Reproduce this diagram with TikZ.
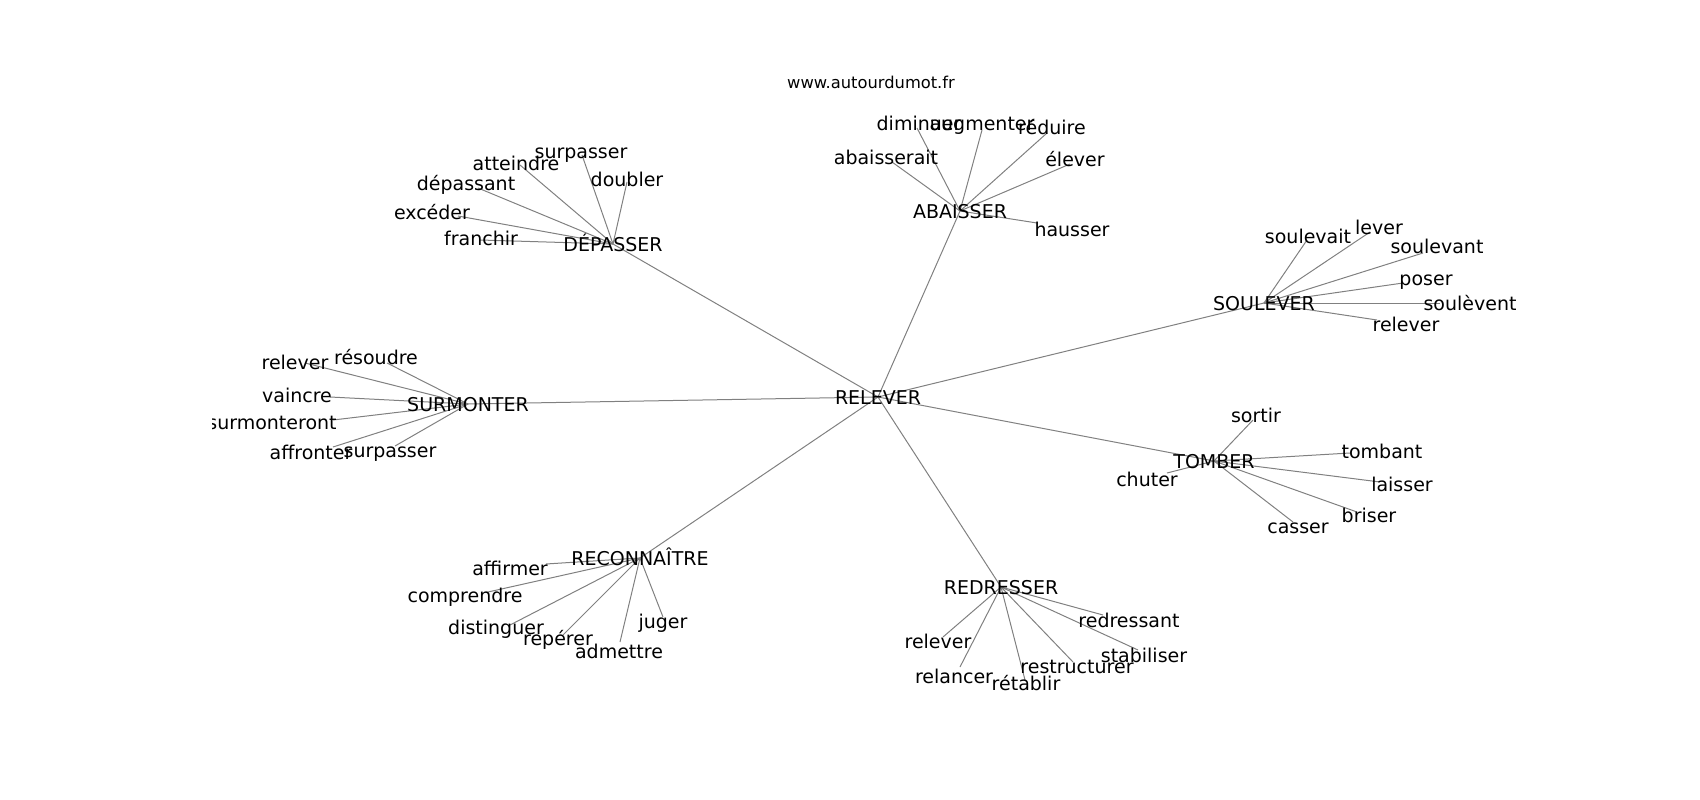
\documentclass[tikz,border=0pt]{standalone}
\usepackage{fontspec}
\setmainfont{DejaVu Sans}
\usepackage{tikz}
\usetikzlibrary{backgrounds}

\begin{document}
\begin{tikzpicture}[
  x=1pt, y=-1pt,
  word/.style={text centered, inner sep=0pt, text height=17pt, text depth=2pt, font=\fontsize{19}{23}\selectfont},
  hub/.style={word},
  site/.style={text centered, inner sep=0pt, text height=12pt, text depth=3.5pt, font=\fontsize{16.3}{19}\selectfont},
  lnk/.style={-, line width=1pt, draw=black!50}
  ]

\useasboundingbox (0,0) rectangle (1700,800);

\node [site] (site) at (871,84) {www.autourdumot.fr};

\begin{scope}
\clip (212.5,96) rectangle (1530,712);

% centre et mots relais
\node [hub] (relever) at (878,397) {RELEVER};
\node [hub] (depasser) at (613,244) {DÉPASSER};
\node [hub] (abaisser) at (960,211) {ABAISSER};
\node [hub] (soulever) at (1264,303) {SOULEVER};
\node [hub] (surmonter) at (468,404) {SURMONTER};
\node [hub] (tomber) at (1214,461) {TOMBER};
\node [hub] (reconnaitre) at (640,558) {RECONNAÎTRE};
\node [hub] (redresser) at (1001,587) {REDRESSER};

% DEPASSER
\path (582,155) coordinate (p-surpasser-d) (581,151) node [word] (surpasser-d) {surpasser};
\path (520,165) coordinate (p-atteindre) (516,163) node [word] (atteindre) {atteindre};
\path (627,182) coordinate (p-doubler) (627,179) node [word] (doubler) {doubler};
\path (478,188) coordinate (p-depassant) (466,183) node [word] (depassant) {dépassant};
\path (458,216) coordinate (p-exceder) (432,212) node [word] (exceder) {excéder};
\path (480,240) coordinate (p-franchir) (481,238) node [word] (franchir) {franchir};

% ABAISSER
\path (917,128) coordinate (p-diminuer) (919,123) node [word] (diminuer) {diminuer};
\path (982,130) coordinate (p-augmenter) (982,123) node [word] (augmenter) {augmenter};
\path (1047,133) coordinate (p-reduire) (1052,127) node [word] (reduire) {réduire};
\path (892,162) coordinate (p-abaisserait) (886,157) node [word] (abaisserait) {abaisserait};
\path (1070,164) coordinate (p-elever) (1075,159) node [word] (elever) {élever};
\path (1037,223) coordinate (p-hausser) (1072,229) node [word] (hausser) {hausser};

% SOULEVER
\path (1307,240) coordinate (p-soulevait) (1308,236) node [word] (soulevait) {soulevait};
\path (1370,232) coordinate (p-lever) (1379,227) node [word] (lever) {lever};
\path (1423,253) coordinate (p-soulevant) (1437,246) node [word] (soulevant) {soulevant};
\path (1403,283) coordinate (p-poser) (1426,278) node [word] (poser) {poser};
\path (1440,303) coordinate (p-soulevent) (1470,303) node [word] (soulevent) {soulèvent};
\path (1377,320) coordinate (p-relever-s) (1406,324) node [word] (relever-s) {relever};

% SURMONTER
\path (305,363) coordinate (p-relever-m) (295,362) node [word] (relever-m) {relever};
\path (387,363) coordinate (p-resoudre) (376,357) node [word] (resoudre) {résoudre};
\path (330,397) coordinate (p-vaincre) (297,395) node [word] (vaincre) {vaincre};
\path (333,420) coordinate (p-surmonteront) (272,422) node [word] (surmonteront) {surmonteront};
\path (333,447) coordinate (p-affronter) (311,452) node [word] (affronter) {affronter};
\path (395,446) coordinate (p-surpasser-m) (390,450) node [word] (surpasser-m) {surpasser};

% TOMBER
\path (1253,420) coordinate (p-sortir) (1256,415) node [word] (sortir) {sortir};
\path (1350,453) coordinate (p-tombant) (1382,451) node [word] (tombant) {tombant};
\path (1380,482) coordinate (p-laisser) (1402,484) node [word] (laisser) {laisser};
\path (1357,512) coordinate (p-briser) (1369,515) node [word] (briser) {briser};
\path (1293,522) coordinate (p-casser) (1298,526) node [word] (casser) {casser};
\path (1167,473) coordinate (p-chuter) (1147,479) node [word] (chuter) {chuter};

% RECONNAITRE
\path (546,564) coordinate (p-affirmer) (510,568) node [word] (affirmer) {affirmer};
\path (488,592) coordinate (p-comprendre) (465,595) node [word] (comprendre) {comprendre};
\path (510,625) coordinate (p-distinguer) (496,627) node [word] (distinguer) {distinguer};
\path (563,635) coordinate (p-reperer) (558,638) node [word] (reperer) {repérer};
\path (620,642) coordinate (p-admettre) (619,651) node [word] (admettre) {admettre};
\path (663,617) coordinate (p-juger) (663,621) node [word] (juger) {juger};

% REDRESSER
\path (1103,615) coordinate (p-redressant) (1129,620) node [word] (redressant) {redressant};
\path (943,637) coordinate (p-relever-r) (938,641) node [word] (relever-r) {relever};
\path (960,667) coordinate (p-relancer) (954,676) node [word] (relancer) {relancer};
\path (1025,680) coordinate (p-retablir) (1026,683) node [word] (retablir) {rétablir};
\path (1073,662) coordinate (p-restructurer) (1077,666) node [word] (restructurer) {restructurer};
\path (1138,650) coordinate (p-stabiliser) (1144,655) node [word] (stabiliser) {stabiliser};

\end{scope}

\begin{pgfonlayer}{background}
\draw [lnk] (relever.center) -- (depasser.center);
\draw [lnk] (relever.center) -- (abaisser.center);
\draw [lnk] (relever.center) -- (soulever.center);
\draw [lnk] (relever.center) -- (surmonter.center);
\draw [lnk] (relever.center) -- (tomber.center);
\draw [lnk] (relever.center) -- (reconnaitre.center);
\draw [lnk] (relever.center) -- (redresser.center);

\draw [lnk] (depasser.center) -- (p-surpasser-d);
\draw [lnk] (depasser.center) -- (p-atteindre);
\draw [lnk] (depasser.center) -- (p-doubler);
\draw [lnk] (depasser.center) -- (p-depassant);
\draw [lnk] (depasser.center) -- (p-exceder);
\draw [lnk] (depasser.center) -- (p-franchir);

\draw [lnk] (abaisser.center) -- (p-diminuer);
\draw [lnk] (abaisser.center) -- (p-augmenter);
\draw [lnk] (abaisser.center) -- (p-reduire);
\draw [lnk] (abaisser.center) -- (p-abaisserait);
\draw [lnk] (abaisser.center) -- (p-elever);
\draw [lnk] (abaisser.center) -- (p-hausser);

\draw [lnk] (soulever.center) -- (p-soulevait);
\draw [lnk] (soulever.center) -- (p-lever);
\draw [lnk] (soulever.center) -- (p-soulevant);
\draw [lnk] (soulever.center) -- (p-poser);
\draw [lnk] (soulever.center) -- (p-soulevent);
\draw [lnk] (soulever.center) -- (p-relever-s);

\draw [lnk] (surmonter.center) -- (p-relever-m);
\draw [lnk] (surmonter.center) -- (p-resoudre);
\draw [lnk] (surmonter.center) -- (p-vaincre);
\draw [lnk] (surmonter.center) -- (p-surmonteront);
\draw [lnk] (surmonter.center) -- (p-affronter);
\draw [lnk] (surmonter.center) -- (p-surpasser-m);

\draw [lnk] (tomber.center) -- (p-sortir);
\draw [lnk] (tomber.center) -- (p-tombant);
\draw [lnk] (tomber.center) -- (p-laisser);
\draw [lnk] (tomber.center) -- (p-briser);
\draw [lnk] (tomber.center) -- (p-casser);
\draw [lnk] (tomber.center) -- (p-chuter);

\draw [lnk] (reconnaitre.center) -- (p-affirmer);
\draw [lnk] (reconnaitre.center) -- (p-comprendre);
\draw [lnk] (reconnaitre.center) -- (p-distinguer);
\draw [lnk] (reconnaitre.center) -- (p-reperer);
\draw [lnk] (reconnaitre.center) -- (p-admettre);
\draw [lnk] (reconnaitre.center) -- (p-juger);

\draw [lnk] (redresser.center) -- (p-redressant);
\draw [lnk] (redresser.center) -- (p-relever-r);
\draw [lnk] (redresser.center) -- (p-relancer);
\draw [lnk] (redresser.center) -- (p-retablir);
\draw [lnk] (redresser.center) -- (p-restructurer);
\draw [lnk] (redresser.center) -- (p-stabiliser);
\end{pgfonlayer}

\end{tikzpicture}
\end{document}
